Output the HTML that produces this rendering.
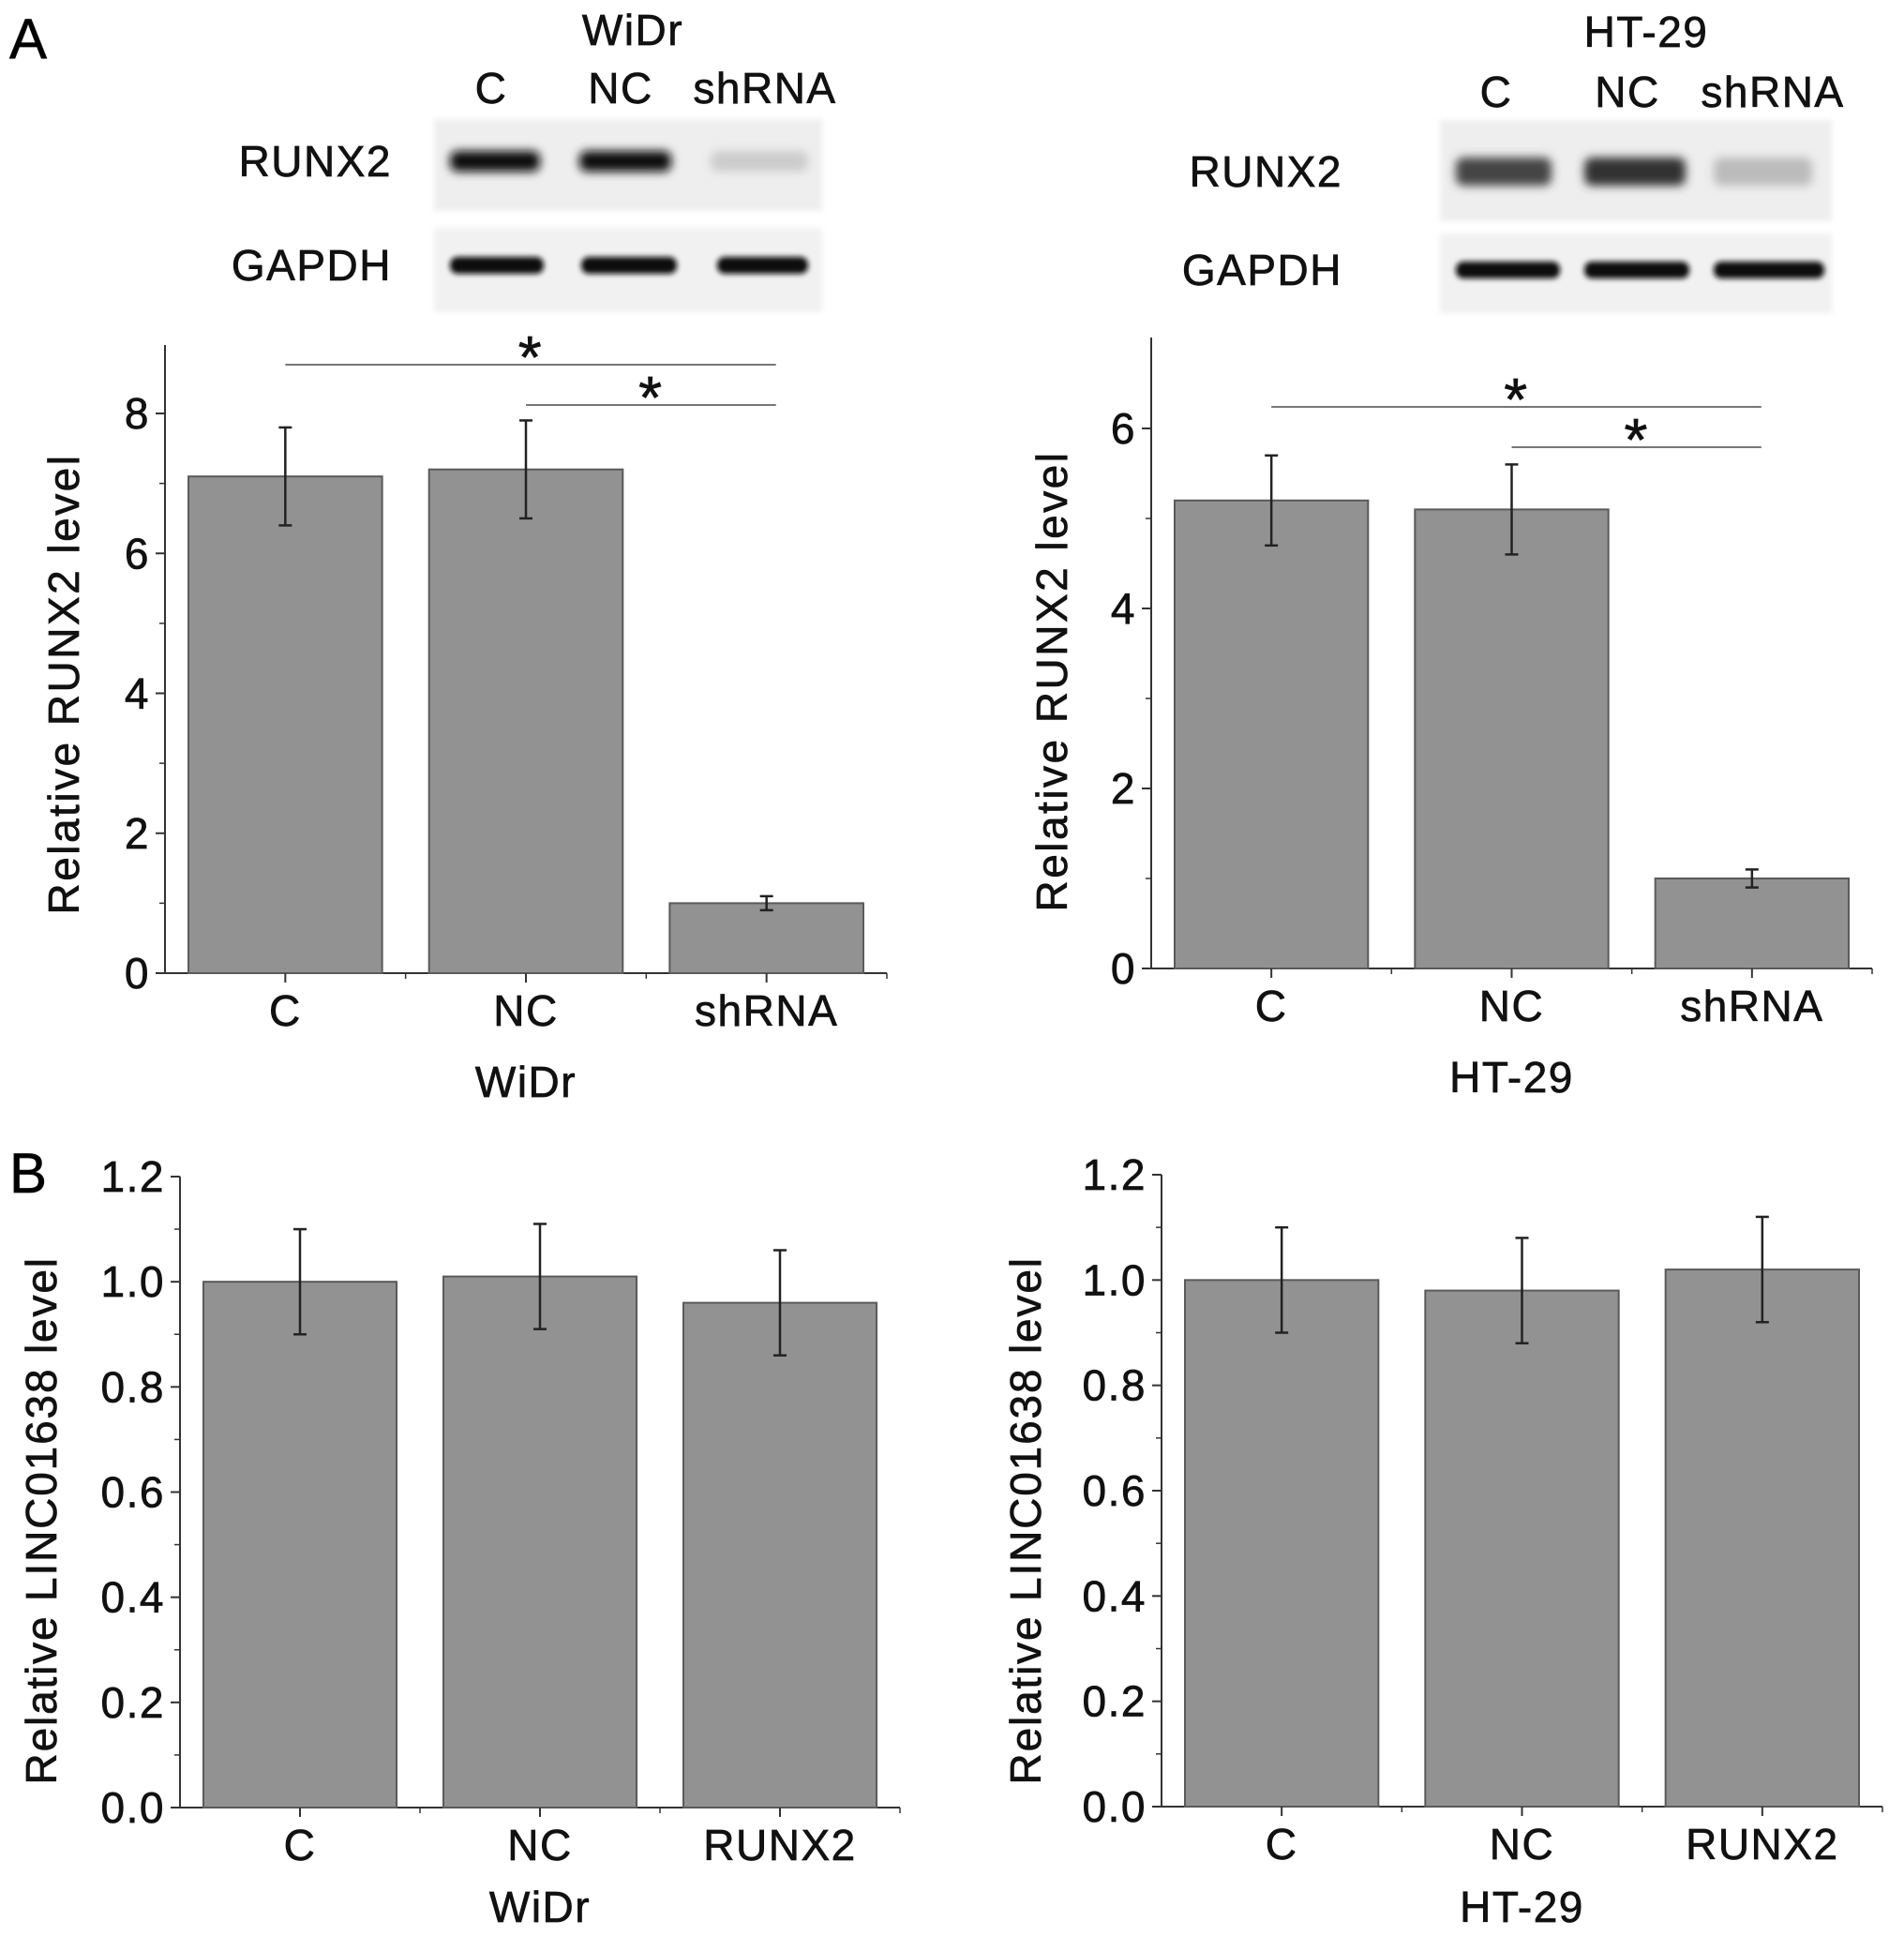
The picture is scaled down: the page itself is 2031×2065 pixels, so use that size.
<!DOCTYPE html>
<html><head><meta charset="utf-8"><style>
html,body{margin:0;padding:0;background:#fff;}
svg{display:block;font-family:"Liberation Sans",Arial,sans-serif;}
svg text{stroke:#111;stroke-width:0.7px;letter-spacing:1.5px;}
</style></head><body>
<svg id="fig" width="2031" height="2065" viewBox="0 0 2031 2065" xmlns="http://www.w3.org/2000/svg">
<defs>
<filter id="blur" x="-20%" y="-100%" width="140%" height="300%"><feGaussianBlur stdDeviation="5"/></filter>
<filter id="blur2" x="-10%" y="-50%" width="120%" height="200%"><feGaussianBlur stdDeviation="3"/></filter>
</defs>
<text x="10" y="62" font-size="60">A</text>
<text x="10" y="1272" font-size="60">B</text>
<g id="blots"></g>
<g id="charts"></g>
</svg>
<script>
// ---- Chart data ----
const catsA = ["C", "NC", "shRNA"];
const catsB = ["C", "NC", "RUNX2"];
const widrRunx2 = [7.1, 7.2, 1.0];
const widrRunx2Err = [0.7, 0.7, 0.1];
const ht29Runx2 = [5.2, 5.1, 1.0];
const ht29Runx2Err = [0.5, 0.5, 0.1];
const widrLinc = [1.0, 1.01, 0.96];
const widrLincErr = [0.1, 0.1, 0.1];
const ht29Linc = [1.0, 0.98, 1.02];
const ht29LincErr = [0.1, 0.1, 0.1];
const ticksWidrA = ["0", "2", "4", "6", "8"];
const ticksHtA = ["0", "2", "4", "6"];
const ticksB = ["0.0", "0.2", "0.4", "0.6", "0.8", "1.0", "1.2"];

const NS = "http://www.w3.org/2000/svg";
const FS = 46;
function mk(tag, attrs, parent, txt) {
  const e = document.createElementNS(NS, tag);
  for (const k in attrs) e.setAttribute(k, attrs[k]);
  if (txt !== undefined) e.textContent = txt;
  parent.appendChild(e);
  return e;
}
const charts = document.getElementById("charts");

function chart(cfg) {
  const g = mk("g", {}, charts);
  
  
  const y = v => cfg.y0 - v / cfg.vmax * (cfg.y0 - cfg.yMaxPx);
  const ax = mk("line", {x1: cfg.ax, y1: cfg.top, x2: cfg.ax, y2: cfg.y0, stroke: "#333", "stroke-width": 2}, g);
  
  
  const xa = mk("line", {x1: cfg.ax, y1: cfg.y0, x2: cfg.end, y2: cfg.y0, stroke: "#333", "stroke-width": 2}, g);
  
  
  cfg.ticks.forEach((t, i) => {
    const v = parseFloat(t);
    const yy = y(v);
    mk("line", {x1: cfg.ax - 10, y1: yy, x2: cfg.ax, y2: yy, stroke: "#333", "stroke-width": 2}, g);
    const lbl = mk("text", {x: cfg.ax - 16, y: yy + 16, "font-size": FS, "text-anchor": "end", fill: "#111"}, g, t);
    
    
    if (i < cfg.ticks.length - 1) {
      const ym = y((v + parseFloat(cfg.ticks[i + 1])) / 2);
      mk("line", {x1: cfg.ax - 6, y1: ym, x2: cfg.ax, y2: ym, stroke: "#333", "stroke-width": 1.5}, g);
    }
  });
  const step = (cfg.end - cfg.ax) / cfg.cats.length;
  cfg.cats.forEach((c, i) => {
    const cx = cfg.ax + step * (i + 0.5);
    const w = step * 0.805;
    const v = cfg.vals[i], e = cfg.errs[i];
    const b = mk("rect", {x: cx - w / 2, y: y(v), width: w, height: cfg.y0 - y(v), fill: "#929292", stroke: "#5a5a5a", "stroke-width": 2}, g);
    
    
    const eb = mk("g", {stroke: "#222", "stroke-width": 2.5}, g);
    
    
    mk("line", {x1: cx, y1: y(v + e), x2: cx, y2: y(v - e)}, eb);
    mk("line", {x1: cx - 7, y1: y(v + e), x2: cx + 7, y2: y(v + e)}, eb);
    mk("line", {x1: cx - 7, y1: y(v - e), x2: cx + 7, y2: y(v - e)}, eb);
    mk("line", {x1: cx, y1: cfg.y0, x2: cx, y2: cfg.y0 + 10, stroke: "#333", "stroke-width": 2}, g);
    mk("line", {x1: cfg.ax + step * (i + 1), y1: cfg.y0, x2: cfg.ax + step * (i + 1), y2: cfg.y0 + 6, stroke: "#333", "stroke-width": 1.5}, g);
    const t = mk("text", {x: cx, y: cfg.y0 + 56, "font-size": FS, "text-anchor": "middle", fill: "#111"}, g, c);
    
    
  });
  const xt = mk("text", {x: cfg.ax + step * 1.5, y: cfg.xTitleY, "font-size": FS, "text-anchor": "middle", fill: "#111"}, g, cfg.xTitle);
  
  
  const yt = mk("text", {x: 0, y: 0, "font-size": FS, "text-anchor": "middle", fill: "#111", textLength: cfg.ytLen, lengthAdjust: "spacing", transform: `translate(${cfg.ytX},${cfg.ytY}) rotate(-90)`}, g, cfg.yTitle);
  
  
  (cfg.sig || []).forEach(s => {
    const x1 = cfg.ax + step * (s[0] + 0.5), x2 = cfg.ax + step * (s[1] + 0.5) + 10;
    const ln = mk("line", {x1: x1, y1: s[2], x2: x2, y2: s[2], stroke: "#777", "stroke-width": 2}, g);
    
    
    const st = mk("text", {x: (x1 + x2) / 2, y: s[2] + 14, "font-size": 64, "text-anchor": "middle", fill: "#111"}, g, "*");
    
    
  });
}

chart({name: "chart-widr-runx2", cats: catsA, vals: widrRunx2, errs: widrRunx2Err, ticks: ticksWidrA, vmax: 8,
  ax: 176, y0: 1038, yMaxPx: 441, top: 368, end: 946, xTitle: "WiDr", xTitleY: 1170,
  yTitle: "Relative RUNX2  level", ytX: 84, ytY: 730, ytLen: 491, sig: [[0, 2, 389], [1, 2, 432]]});
chart({name: "chart-ht29-runx2", cats: catsA, vals: ht29Runx2, errs: ht29Runx2Err, ticks: ticksHtA, vmax: 6,
  ax: 1228, y0: 1033, yMaxPx: 457, top: 360, end: 1997, xTitle: "HT-29", xTitleY: 1165,
  yTitle: "Relative RUNX2  level", ytX: 1138, ytY: 727, ytLen: 491, sig: [[0, 2, 434], [1, 2, 477]]});
chart({name: "chart-widr-linc", cats: catsB, vals: widrLinc, errs: widrLincErr, ticks: ticksB, vmax: 1.2,
  ax: 192, y0: 1928, yMaxPx: 1255, top: 1255, end: 960, xTitle: "WiDr", xTitleY: 2050,
  yTitle: "Relative LINC01638  level", ytX: 60, ytY: 1622, ytLen: 563});
chart({name: "chart-ht29-linc", cats: catsB, vals: ht29Linc, errs: ht29LincErr, ticks: ticksB, vmax: 1.2,
  ax: 1239, y0: 1927, yMaxPx: 1253, top: 1253, end: 2008, xTitle: "HT-29", xTitleY: 2050,
  yTitle: "Relative LINC01638  level", ytX: 1110, ytY: 1622, ytLen: 563});

// ---- Western blots ----
const blots = document.getElementById("blots");
function blot(cfg) {
  const g = mk("g", {}, blots);
  
  
  const t = mk("text", {x: cfg.titleX, y: cfg.titleY, "font-size": FS, "text-anchor": "middle", fill: "#111"}, g, cfg.title);
  
  
  cfg.lanes.forEach((l, i) => {
    const lt = mk("text", {x: cfg.laneX[i], y: cfg.laneY, "font-size": FS, "text-anchor": "middle", fill: "#111"}, g, l);
    
    
  });
  mk("rect", {x: cfg.bx, y: cfg.s1[0], width: cfg.bw, height: cfg.s1[1] - cfg.s1[0], fill: "#eeeeee", filter: "url(#blur2)"}, g);
  mk("rect", {x: cfg.bx, y: cfg.s2[0], width: cfg.bw, height: cfg.s2[1] - cfg.s2[0], fill: "#f1f1f1", filter: "url(#blur2)"}, g);
  const r = mk("text", {x: cfg.lblX, y: cfg.r1y + 16, "font-size": FS, "text-anchor": "end", fill: "#111"}, g, "RUNX2");
  
  
  const gp = mk("text", {x: cfg.lblX, y: cfg.r2y + 16, "font-size": FS, "text-anchor": "end", fill: "#111"}, g, "GAPDH");
  
  
  cfg.bands1.forEach(b => {
    const e = mk("rect", {x: b[0], y: cfg.r1y - cfg.h1 / 2, width: b[1] - b[0], height: cfg.h1, rx: 8, fill: b[2], filter: "url(#blur)"}, g);
    
    
  });
  cfg.bands2.forEach(b => {
    const e = mk("rect", {x: b[0], y: cfg.r2y - 9, width: b[1] - b[0], height: 18, rx: 8, fill: "#111", filter: "url(#blur2)"}, g);
    
    
  });
}
blot({name: "western-blot-widr", title: "WiDr", titleX: 675, titleY: 48, lanes: ["C", "NC", "shRNA"], laneX: [524, 662, 816], laneY: 110,
  bx: 463, bw: 414, s1: [127, 225], s2: [243, 333], lblX: 418, r1y: 172, r2y: 283, h1: 22,
  bands1: [[480, 576, "#111"], [618, 716, "#111"], [758, 862, "#ccc"]],
  bands2: [[480, 580], [620, 722], [765, 862]]});
blot({name: "western-blot-ht29", title: "HT-29", titleX: 1756, titleY: 50, lanes: ["C", "NC", "shRNA"], laneX: [1596, 1736, 1891], laneY: 114,
  bx: 1536, bw: 418, s1: [128, 236], s2: [249, 334], lblX: 1432, r1y: 183, r2y: 288, h1: 30,
  bands1: [[1553, 1655, "#444"], [1690, 1798, "#333"], [1828, 1933, "#bbb"]],
  bands2: [[1553, 1664], [1690, 1802], [1828, 1946]]});
</script>
</body></html>
